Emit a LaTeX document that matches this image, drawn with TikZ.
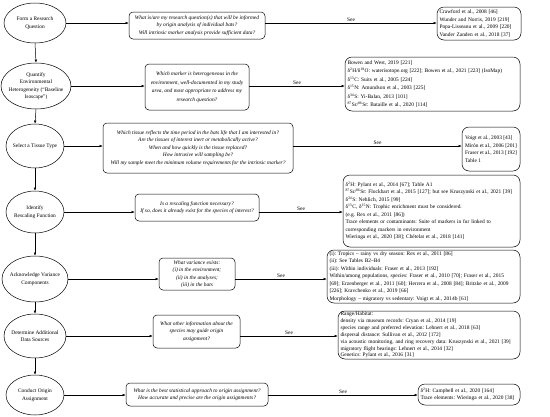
\documentclass[tikz,border=0pt]{standalone}
\usepackage{fontspec}
\setmainfont{Liberation Serif}
\usetikzlibrary{shapes.geometric,arrows.meta}
\newcommand\dfs{\fontsize{5.4}{7.5}\selectfont}
\newcommand\sus[1]{\textsuperscript{#1}}
\frenchspacing
\begin{document}
\begin{tikzpicture}[x=1pt,y=-1pt,
  ell/.style={ellipse, draw, line width=0.5pt, inner sep=0pt},
  etext/.style={align=center, font=\dfs, inner sep=0pt},
  qbox/.style={draw, line width=0.5pt, rounded corners=4pt, align=center, inner sep=0pt, font=\dfs\itshape},
  rbox/.style={draw, line width=0.5pt, rounded corners=7pt, align=left, inner xsep=2.5pt, inner ysep=0pt, font=\dfs},
  arr/.style={-{Latex[length=3.2pt,width=2.6pt]}, line width=0.5pt},
  seelbl/.style={above, font=\dfs, inner sep=1.5pt}]
\useasboundingbox (0,0) rectangle (550,416);

% ellipses (steps)
\node[ell, minimum width=62pt, minimum height=40pt, label={[etext]center:Form a Research\\Question}] (e1) at (35,23) {};
\node[ell, minimum width=70pt, minimum height=46pt, label={[etext]center:Quantify\\Environmental\\Heterogeneity (``Baseline\\Isoscape'')}] (e2) at (36,86) {};
\node[ell, minimum width=58pt, minimum height=44pt, label={[etext]center:Select a Tissue Type}] (e3) at (35,146) {};
\node[ell, minimum width=58pt, minimum height=42pt, label={[etext]center:Identify\\Rescaling Function}] (e4) at (35,212) {};
\node[ell, minimum width=66pt, minimum height=46pt, label={[etext]center:Acknowledge Variance\\Components}] (e5) at (35,279) {};
\node[ell, minimum width=62pt, minimum height=44pt, label={[etext]center:Determine Additional\\Data Sources}] (e6) at (35,336) {};
\node[ell, minimum width=58pt, minimum height=40pt, label={[etext]center:Conduct Origin\\Assignment}] (e7) at (35,395) {};

% question boxes
\node[qbox, minimum width=136pt, minimum height=27pt] (q1) at (197,25.5)
  {What is/are my research question(s) that will be informed\\by origin analysis of individual bats?\\Will intrinsic marker analysis provide sufficient data?};
\node[qbox, minimum width=104pt, minimum height=46pt, font=\fontsize{5.4}{8.5}\selectfont\itshape] (q2) at (197,87)
  {Which marker is heterogeneous in the\\environment, well-documented in my study\\area, and most appropriate to address my\\research question?};
\node[qbox, minimum width=190pt, minimum height=50pt] (q3) at (198,148)
  {Which tissue reflects the time period in the bats life that I am interested in?\\Are the tissues of interest inert or metabolically active?\\When and how quickly is the tissue replaced?\\How intrusive will sampling be?\\Will my sample meet the minimum volume requirements for the intrinsic marker?};
\node[qbox, minimum width=124pt, minimum height=27pt] (q4) at (197,207.5)
  {Is a rescaling function necessary?\\If so, does it already exist for the species of interest?};
\node[qbox, minimum width=76pt, minimum height=32pt] (q5) at (197,274)
  {What variance exists:\\(i) in the environment;\\(ii) in the analyses;\\(iii) in the bats};
\node[qbox, minimum width=87pt, minimum height=33pt] (q6) at (196.5,331.5)
  {What other information about the\\species may guide origin\\assignment?};
\node[qbox, minimum width=142pt, minimum height=23pt] (q7) at (197,394.5)
  {What is the best statistical approach to origin assignment?\\How accurate and precise are the origin assignments?};

% reference boxes
\node[rbox, text width=79pt, minimum height=33pt] (r1) at (479,23.5)
  {Crawford et al., 2008 [46]\\Wunder and Norris, 2019 [219]\\Popa-Lisseanu et al., 2009 [220]\\Vander Zanden et al., 2018 [37]};
\node[rbox, text width=170pt, minimum height=54pt, font=\fontsize{5.4}{8.5}\selectfont] (r2) at (432.5,84)
  {Bowen and West, 2019 [221]\\δ\sus{2}H/δ\sus{18}O: waterisotope.org [222]; Bowen et al., 2021 [223] (IsoMap)\\δ\sus{13}C: Suits et al., 2005 [224]\\δ\sus{15}N: Amundson et al., 2003 [225]\\δ\sus{34}S: Yi-Balan, 2013 [101]\\\sus{87}Sr/\sus{86}Sr: Bataille et al., 2020 [114]};
\node[rbox, inner xsep=1.5pt, minimum width=58pt, minimum height=44pt] (r3) at (491,149)
  {Voigt et al., 2003 [43]\\Mirón et al., 2006 [201]\\Fraser et al., 2013 [192]\\Table 1};
\node[rbox, text width=172pt, minimum height=72pt] (r4) at (431.5,211)
  {δ\sus{2}H: Pylant et al., 2014 [67]; Table A1\\\sus{87}Sr/\sus{86}Sr: Flockhart et al., 2015 [127]; but see Kruszynski et al., 2021 [39]\\δ\sus{34}S: Nehlich, 2015 [99]\\δ\sus{13}C, δ\sus{15}N: Trophic enrichment must be considered.\\(e.g. Rex et al., 2011 [86])\\Trace elements or contaminants: Suite of markers in fur linked to\\corresponding markers in environment\\Wieringa et al., 2020 [38]; Chételat et al., 2018 [141]};
\node[rbox, text width=188pt, minimum height=53pt] (r5) at (423.5,276.5)
  {(i): Tropics – rainy vs dry season: Rex et al., 2011 [86]\\(ii): See Tables B2–B4\\(iii): Within individuals: Fraser et al., 2013 [192]\\Within/among populations, species: Fraser et al., 2010 [70]; Fraser et al., 2015\\{}[69]; Erzenberger et al., 2011 [60]; Herrera et al., 2008 [84]; Britzke et al., 2009\\{}[226]; Kravchenko et al., 2019 [66]\\Morphology – migratory vs sedentary: Voigt et al., 2014b [61]};
\node[rbox, text width=177pt, minimum height=48pt, font=\fontsize{5.4}{6.9}\selectfont] (r6) at (429,335)
  {Range/Habitat:\\density via museum records: Cryan et al., 2014 [19]\\species range and preferred elevation: Lehnert et al., 2018 [63]\\dispersal distance: Sullivan et al., 2012 [172]\\via acoustic monitoring, and ring recovery data: Kruszynski et al., 2021 [39]\\migratory flight bearings: Lehnert et al., 2014 [32]\\Genetics: Pylant et al., 2016 [31]};
\node[rbox, text width=97pt, minimum height=21pt] (r7) at (469,394.5)
  {δ\sus{2}H: Campbell et al., 2020 [164]\\Trace elements: Wieringa et al., 2020 [38]};

% vertical flow
\foreach \a/\b in {e1/e2,e2/e3,e3/e4,e4/e5,e5/e6,e6/e7}
  \draw[arr] (\a.south) -- (\b.north);

% horizontal connectors
\foreach \i in {1,...,7}{
  \draw[arr] (e\i.east) -- (q\i.west |- e\i.east);
  \draw[arr] (q\i.east |- e\i.east) -- node[seelbl]{See} (r\i.west |- e\i.east);
}
\end{tikzpicture}
\end{document}
